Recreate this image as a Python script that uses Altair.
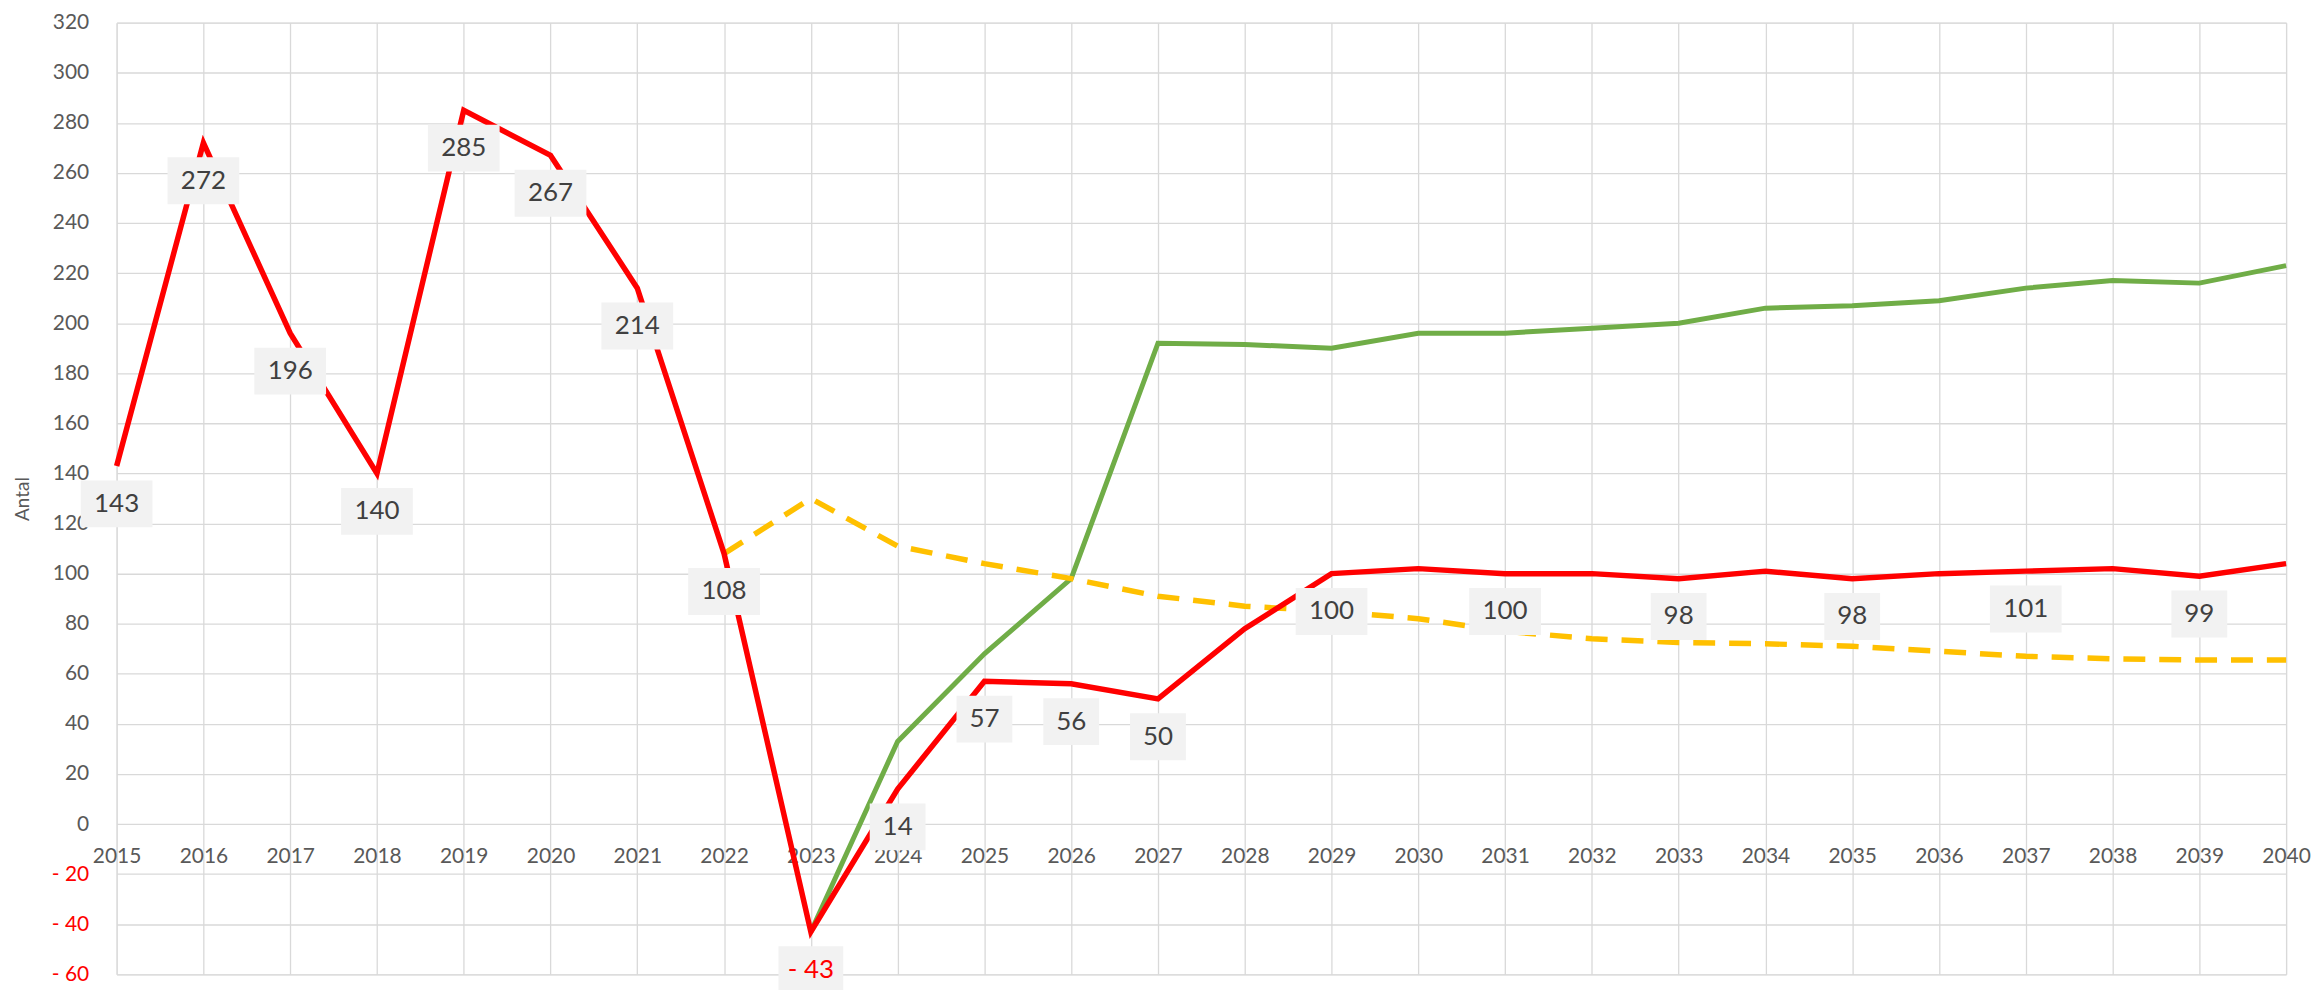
import altair as alt
import pandas as pd

# ---- data ----
years = list(range(2015, 2041))
red_values = [143, 272, 196, 140, 285, 267, 214, 108, -43, 14, 57, 56, 50, 78,
              100, 102, 100, 100, 98, 101, 98, 100, 101, 102, 99, 104]

green_years = list(range(2023, 2041))
green_values = [-43, 33, 68, 98, 192, 191.5, 190, 196, 196, 198, 200, 206, 207,
                209, 214, 217, 216, 223]

yellow_years = list(range(2022, 2041))
yellow_values = [108, 130, 111, 104, 98, 91, 87, 85, 82, 77, 74, 72.5, 72, 71,
                 69, 67, 66, 65.5, 65.5]

label_years = [2015, 2016, 2017, 2018, 2019, 2020, 2021, 2022, 2023, 2024, 2025,
               2026, 2027, 2029, 2031, 2033, 2035, 2037, 2039]

y_ticks = list(range(-60, 321, 20))

# ---- tables ----
red_df = pd.DataFrame({"year": years, "v": red_values})
green_df = pd.DataFrame({"year": green_years, "v": green_values})
yellow_df = pd.DataFrame({"year": yellow_years, "v": yellow_values})
lab_df = red_df[red_df["year"].isin(label_years)].copy()

FONT = "Lato"
GRID = "#D9D9D9"
AX = "#595959"

x_enc = alt.X(
    "year:Q",
    scale=alt.Scale(domain=[2015, 2040], nice=False, zero=False),
    axis=alt.Axis(
        values=years, format="d", grid=True, gridColor=GRID, gridWidth=1.3,
        domain=False, ticks=False, labelPadding=-129, labelFlush=False,
        labelOverlap=False, labelFont=FONT, labelFontSize=21, labelColor=AX,
        title=None,
    ),
)
y_enc = alt.Y(
    "v:Q",
    scale=alt.Scale(domain=[-60, 320], nice=False, zero=False),
    axis=alt.Axis(
        values=y_ticks, grid=True, gridColor=GRID, gridWidth=1.3,
        domain=False, ticks=False, labelPadding=28,
        labelFont=FONT, labelFontSize=21,
        labelColor={"condition": {"test": "datum.value < 0", "value": "#FF0000"}, "value": AX},
        labelExpr="datum.value < 0 ? '- ' + abs(datum.value) : '' + datum.value",
        title="Antal", titleFont=FONT, titleFontSize=19, titleFontWeight="normal",
        titleColor=AX, titleX=-94, titleY=477.5, titleAngle=270,
        titleBaseline="middle", titleAlign="center",
    ),
)

green_line = alt.Chart(green_df).mark_line(color="#70AD47", strokeWidth=5).encode(
    x=x_enc, y=y_enc)
yellow_line = alt.Chart(yellow_df).mark_line(
    color="#FFC000", strokeWidth=5.5, strokeDash=[22, 14]).encode(x="year:Q", y="v:Q")
red_line = alt.Chart(red_df).mark_line(color="#FF0000", strokeWidth=5.5).encode(
    x="year:Q", y="v:Q")

lab = alt.Chart(lab_df)
box_kw = dict(color="#F2F2F2", yOffset=14.5, y2Offset=61.5)
box3 = lab.transform_filter("datum.v >= 100").mark_rect(
    xOffset=-36, x2Offset=36, **box_kw).encode(x="year:Q", x2="year", y="v:Q", y2="v")
box2 = lab.transform_filter("datum.v >= 0 && datum.v < 100").mark_rect(
    xOffset=-28, x2Offset=28, **box_kw).encode(x="year:Q", x2="year", y="v:Q", y2="v")
boxn = lab.transform_filter("datum.v < 0").mark_rect(
    xOffset=-32.5, x2Offset=32.5, **box_kw).encode(x="year:Q", x2="year", y="v:Q", y2="v")

texts = lab.transform_calculate(
    lbl="datum.v < 0 ? '- ' + abs(datum.v) : '' + datum.v"
).mark_text(dy=38, font=FONT, fontSize=26, baseline="middle", align="center").encode(
    x="year:Q", y="v:Q", text="lbl:N",
    color=alt.condition("datum.v < 0", alt.value("#FF0000"), alt.value("#404040")),
)

chart = alt.layer(green_line, yellow_line, red_line, box3, box2, boxn, texts).properties(
    width=2177, height=955,
    autosize=alt.AutoSizeParams(type="none"),
    padding={"left": 109, "top": 13, "right": 29, "bottom": 14},
).configure_view(strokeWidth=0).configure(background="white")

chart.save("out.html", embed_options={"renderer": "svg", "actions": False})
